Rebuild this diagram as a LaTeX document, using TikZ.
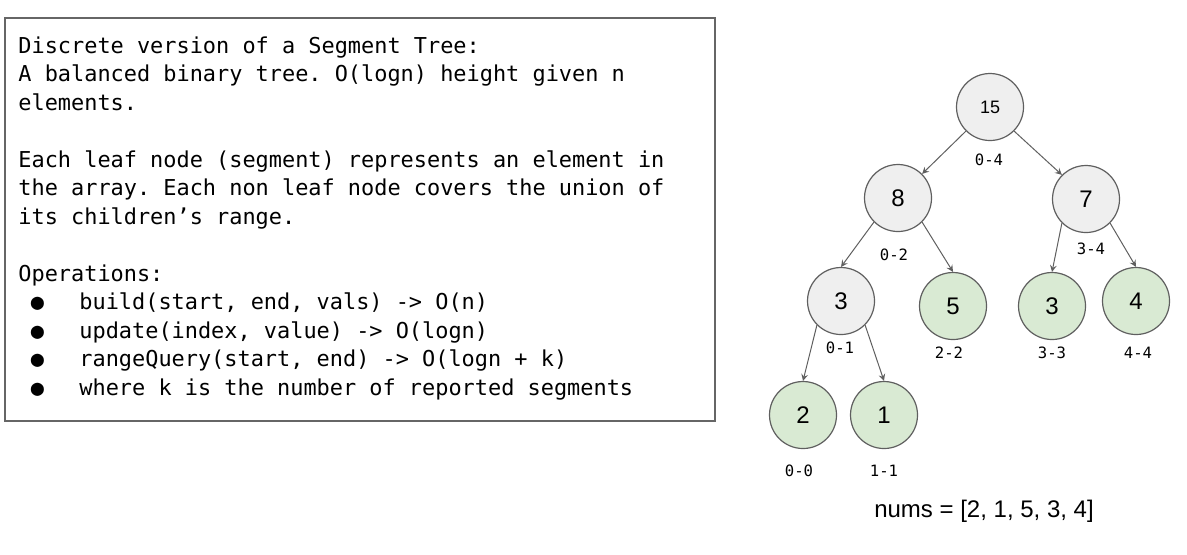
\documentclass[tikz,border=0pt]{standalone}
\usepackage{fontspec}
\setmainfont{Liberation Sans}
\setmonofont{DejaVu Sans Mono}
\definecolor{rim}{HTML}{5F5F5F}
\definecolor{inner}{HTML}{EFEFEF}
\definecolor{leaf}{HTML}{D9EAD3}
\tikzset{
    seg/.style = {circle, draw = rim, line width = 0.6pt, fill = inner, minimum size = 33.5pt, inner sep = 0pt, font = \fontsize{12}{14}\selectfont},
    leafseg/.style = {seg, fill = leaf},
    spanlabel/.style = {inner sep = 0pt, font = \ttfamily\fontsize{7.8}{9}\selectfont},
    edge/.style = {draw = rim, line width = 0.5pt, ->, >=stealth}
}

\begin{document}
\begin{tikzpicture}[x = 0.5pt, y = -0.5pt]
    \useasboundingbox (0,0) rectangle (1187,554);
    \draw[draw = black!60, line width = 1pt] (5,18) rectangle (715,421);
    \node (desc) at (18,36) [anchor = north west, inner sep = 0pt, align = left, font = \ttfamily\fontsize{10.95}{14.25}\selectfont] {Discrete version of a Segment Tree:\\
        A balanced binary tree. O(logn) height given n\\
        elements.\\[14.25pt]
        Each leaf node (segment) represents an element in\\
        the array. Each non leaf node covers the union of\\
        its children’s range.\\[14.25pt]
        Operations:\\
        \hspace*{6.2pt}\makebox[24.3pt][l]{●}build(start, end, vals) -> O(n)\\
        \hspace*{6.2pt}\makebox[24.3pt][l]{●}update(index, value) -> O(logn)\\
        \hspace*{6.2pt}\makebox[24.3pt][l]{●}rangeQuery(start, end) -> O(logn + k)\\
        \hspace*{6.2pt}\makebox[24.3pt][l]{●}where k is the number of reported segments};
    \node (n15) at (990,107) [seg, font = \fontsize{9}{11}\selectfont] {15};
    \node (n8) at (898,198) [seg] {8};
    \node (n7) at (1086,199) [seg] {7};
    \node (n3) at (841,301) [seg] {3};
    \node (l5) at (953,306) [leafseg] {5};
    \node (l3) at (1052,306) [leafseg] {3};
    \node (l4) at (1136,301) [leafseg] {4};
    \node (l2) at (803,415) [leafseg] {2};
    \node (l1) at (884,415) [leafseg] {1};
    \draw[edge] (n15.south west) -- (n8.north east);
    \draw[edge] (n15.south east) -- (n7.north west);
    \draw[edge] (n8.south west) -- (n3.north);
    \draw[edge] (n8.south east) -- (l5.north);
    \draw[edge] (n7.south west) -- (l3.north);
    \draw[edge] (n7.south east) -- (l4.north);
    \draw[edge] (n3.south west) -- (l2.north);
    \draw[edge] (n3.south east) -- (l1.north);
    \node (r04) at (989,160) [spanlabel] {0-4};
    \node (r02) at (894,255) [spanlabel] {0-2};
    \node (r34) at (1091,249) [spanlabel] {3-4};
    \node (r01) at (840,348) [spanlabel] {0-1};
    \node (r22) at (949,353) [spanlabel] {2-2};
    \node (r33) at (1052,353) [spanlabel] {3-3};
    \node (r44) at (1138,353) [spanlabel] {4-4};
    \node (r00) at (799,471) [spanlabel] {0-0};
    \node (r11) at (884,471) [spanlabel] {1-1};
    \node (nums) at (984,511) [font = \fontsize{12}{14}\selectfont] {nums = [2, 1, 5, 3, 4]};
\end{tikzpicture}
\end{document}
